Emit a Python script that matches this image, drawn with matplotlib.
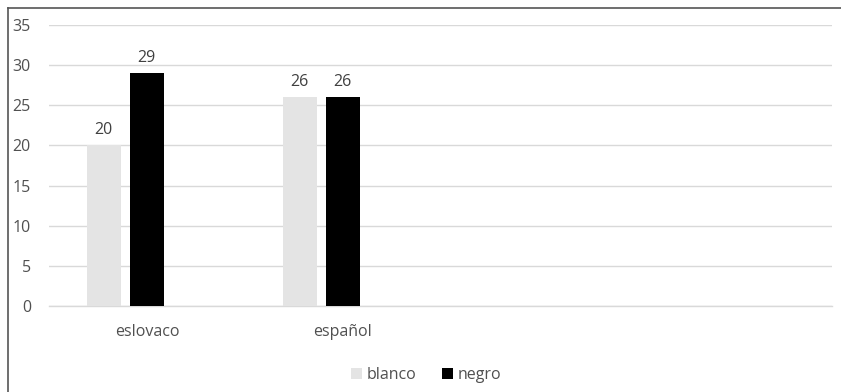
import matplotlib
matplotlib.use("Agg")
import matplotlib.pyplot as plt
from matplotlib.lines import Line2D
from matplotlib.patches import Patch
import numpy as np

categories = ["eslovaco", "español"]
n_slots = 4
series_names = ["blanco", "negro"]
blanco = [20, 26]
negro = [29, 26]
y_ticks = [0, 5, 10, 15, 20, 25, 30, 35]

colors = {"blanco": "#e4e4e4", "negro": "#000000"}
text_color = "#505050"
font = "Open Sans"
fs = 11.5

fig = plt.figure(figsize=(8.41, 3.92), dpi=100)
ax = fig.add_axes([49/841, 1 - 306/392, (832 - 49)/841, (306 - 25)/392])

x = np.arange(len(categories))
width = 0.174
step = 0.22
offsets = [-step, 0.0]
for name, vals, off in zip(series_names, [blanco, negro], offsets):
    bars = ax.bar(x + off, vals, width=width, color=colors[name], zorder=3, label=name)
    for b, v in zip(bars, vals):
        ax.annotate(f"{v}", (b.get_x() + b.get_width()/2, v), xytext=(0, 5),
                    textcoords="offset points", ha="center", va="bottom",
                    fontsize=fs, color="#404040", family=font)

ax.set_xlim(-0.5, n_slots - 0.5)
ax.set_ylim(0, 35)
ax.set_yticks(y_ticks)
ax.set_yticklabels([str(t) for t in y_ticks], fontsize=fs, color=text_color, family=font)
ax.set_xticks(x)
ax.set_xticklabels(categories, fontsize=fs, color=text_color, family=font)
ax.tick_params(axis="y", length=0, pad=13)
ax.tick_params(axis="x", length=0, pad=13)
ax.grid(axis="y", color="#d9d9d9", linewidth=1.0, zorder=0)
for s in ["top", "right", "left"]:
    ax.spines[s].set_visible(False)
ax.spines["bottom"].set_color("#d9d9d9")
ax.spines["bottom"].set_linewidth(1.0)

handles = [Patch(facecolor=colors[n], label=n) for n in series_names]
leg = fig.legend(handles=handles, loc="center", bbox_to_anchor=(426/841, 1 - 375/392),
                 ncol=2, frameon=False, prop={"family": font, "size": fs},
                 handlelength=0.7, handleheight=0.7, handletextpad=0.3, columnspacing=1.6)
for t in leg.get_texts():
    t.set_color(text_color)

# outer border (top and left visible)
fig.add_artist(Line2D([7.5/841, 1], [1 - 7.5/392] * 2, transform=fig.transFigure, color="#555555", linewidth=1.2))
fig.add_artist(Line2D([7.5/841] * 2, [0, 1 - 7.5/392], transform=fig.transFigure, color="#555555", linewidth=1.2))

fig.savefig("out.png", dpi=100)
